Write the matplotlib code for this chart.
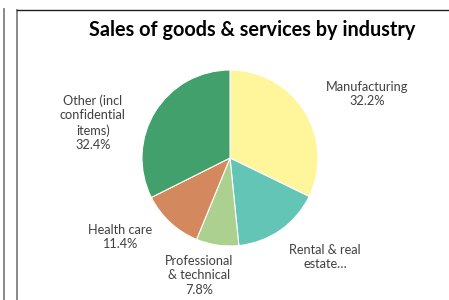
import matplotlib.pyplot as plt
from matplotlib.lines import Line2D

plt.rcParams["font.family"] = ["Lato", "DejaVu Sans"]

industries = ["Manufacturing", "Rental & real\nestate…", "Professional\n& technical",
              "Health care", "Other (incl\nconfidential\nitems)"]
shares = [32.2, 16.2, 7.8, 11.4, 32.4]
show_pct = [True, False, True, True, True]
colors = ["#FFF59B", "#63C5B5", "#ACD08F", "#D3885E", "#41A06B"]

# label positions, in units of pie radius
label_pos = [(1.56, 0.73), (1.08, -1.125), (-0.35, -1.33), (-1.25, -0.90), (-1.56, 0.40)]

W, H = 449, 300
fig = plt.figure(figsize=(W / 100, H / 100), dpi=100)

# pie centre (230, 142 from bottom), radius 88 px
cx, cy, r = 230, 142, 88
ax = fig.add_axes([(cx - 200) / W, 0, 400 / W, 2 * cy / H])
ax.pie(shares, colors=colors, startangle=90, counterclock=False,
       wedgeprops=dict(linewidth=0.8, edgecolor="white"))
ax.set_xlim(-200 / r, 200 / r)
ax.set_ylim(-cy / r, cy / r)
ax.set_aspect("auto")
ax.axis("off")

for name, val, pct, (x, y) in zip(industries, shares, show_pct, label_pos):
    txt = f"{name}\n{val:.1f}%" if pct else name
    ax.text(x, y, txt, ha="center", va="center", fontsize=9.2,
            color="#404040", linespacing=1.25)

fig.text(252 / W, 1 - 30 / H, "Sales of goods & services by industry",
         ha="center", va="center", fontsize=14.3, fontweight="bold", color="black")

# frame lines
fig.add_artist(Line2D([3.8 / W, 3.8 / W], [0, 1 - 9 / H], color="#808080", lw=1.3))
fig.add_artist(Line2D([16.5 / W, 16.5 / W], [0, 1 - 9.5 / H], color="#808080", lw=1.3))
fig.add_artist(Line2D([16.5 / W, 1], [1 - 9.5 / H, 1 - 9.5 / H], color="#202020", lw=1))

fig.savefig("out.png", dpi=100)
